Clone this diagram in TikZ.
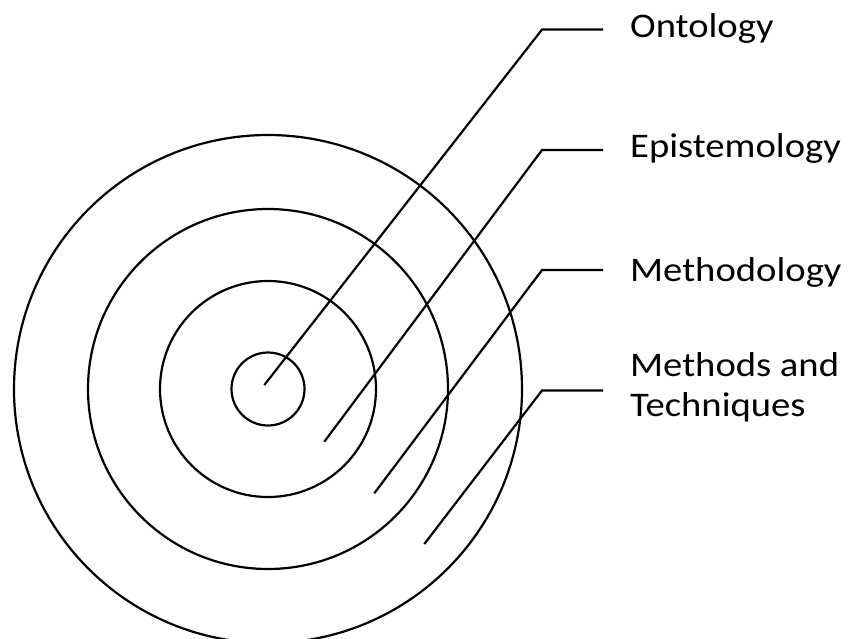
\documentclass[tikz,border=0pt]{standalone}
\usepackage{fontspec}
\newfontfamily\lblfont[FakeStretch=1.12]{Carlito}
\begin{document}
\begin{tikzpicture}[x=1pt,y=-1pt,
  ring/.style={draw=black,line width=2.2pt},
  leader/.style={draw=black,line width=2.2pt,line join=miter},
  lbl/.style={anchor=base west,inner sep=0pt,font=\lblfont\fontsize{34.5}{40}\selectfont,align=left}]
\useasboundingbox (0,0) rectangle (851,638);
\coordinate (c) at (268,389);
\draw[ring] (c) circle[radius=36.5pt];
\draw[ring] (c) circle[radius=108pt];
\draw[ring] (c) circle[radius=180pt];
\draw[ring] (c) circle[radius=254pt];
% labels
\node[lbl] (onto) at (630,37) {Ontology};
\node[lbl] (epis) at (630,157.5) {Epistemology};
\node[lbl] (meth) at (630,281.5) {Methodology};
\node[lbl] (mt1) at (630,376.5) {Methods and};
\node[lbl] (mt2) at (630,416.5) {Techniques};
% leader points
\coordinate (s1) at (264.3,385);
\coordinate (k1) at (542,29.5);
\coordinate (e1) at (603,29.5);
\coordinate (s2) at (324.3,441.7);
\coordinate (k2) at (542,150);
\coordinate (e2) at (603,150);
\coordinate (s3) at (374.3,493.3);
\coordinate (k3) at (542,270);
\coordinate (e3) at (603,270);
\coordinate (s4) at (424.3,544);
\coordinate (k4) at (542,390.5);
\coordinate (e4) at (603,390.5);
\draw[leader] (s1) -- (k1) -- (e1);
\draw[leader] (s2) -- (k2) -- (e2);
\draw[leader] (s3) -- (k3) -- (e3);
\draw[leader] (s4) -- (k4) -- (e4);
\end{tikzpicture}
\end{document}
